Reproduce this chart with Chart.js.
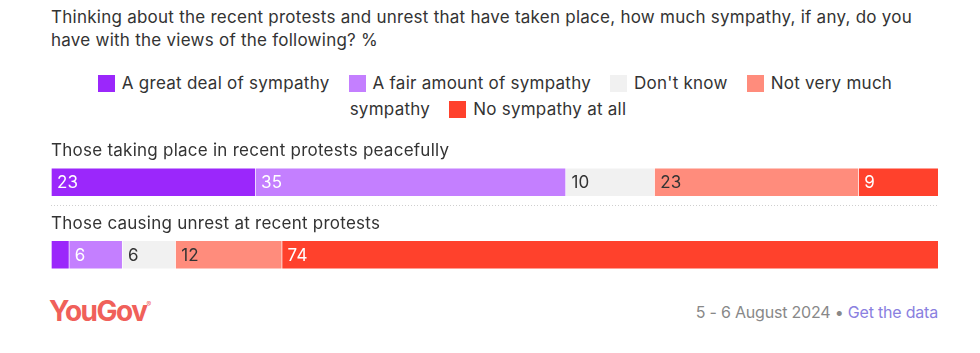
<!DOCTYPE html>
<html>
<head>
<meta charset="utf-8">
<script src="https://cdn.jsdelivr.net/npm/chart.js@4"></script>
<style>
  body { margin: 0; background: #fff; font-family: Inter, "Open Sans", sans-serif; color: #333; }
  #wrap { position: relative; width: 980px; height: 353px; overflow: hidden; }
  #title { position: absolute; left: 51px; top: 6px; width: 900px; font-size: 17px; letter-spacing: 0.25px; line-height: 23px; }
  #legend { position: absolute; left: 80px; top: 70px; width: 830px; text-align: center; font-size: 17px; letter-spacing: 0.25px; line-height: 26px; }
  #legend .item { margin-right: 14px; }
  #legend .sw { display: inline-block; width: 17px; height: 17px; vertical-align: -3px; margin-right: 7px; }
  #chartBox { position: absolute; left: 51px; top: 121px; width: 887px; height: 170px; }
  #logo { position: absolute; left: 49px; top: 294px; font-size: 28px; font-weight: 700; color: #f0605a; letter-spacing: -1.5px; }
  #logo sup { font-size: 7px; font-weight: 400; letter-spacing: 0; vertical-align: 14px; }
  #source { position: absolute; right: 42px; top: 302px; font-size: 16px; letter-spacing: -0.2px; color: #888; }
  #source a { color: #8a80e0; text-decoration: none; }
</style>
</head>
<body>
<div id="wrap">
  <div id="title">Thinking about the recent protests and unrest that have taken place, how much sympathy, if any, do you have with the views of the following? %</div>
  <div id="legend"></div>
  <div id="chartBox"><canvas id="chart"></canvas></div>
  <div id="logo">YouGov<sup>®</sup></div>
  <div id="source">5 - 6 August 2024 • <a href="#">Get the data</a></div>
</div>
<script>
const categories = [
    "Those taking place in recent protests peacefully",
    "Those causing unrest at recent protests"
];

const seriesNames = [
    "A great deal of sympathy",
    "A fair amount of sympathy",
    "Don't know",
    "Not very much sympathy",
    "No sympathy at all"
];

const greatDeal = [23, 2];
const fairAmount = [35, 6];
const dontKnow = [10, 6];
const notVeryMuch = [23, 12];
const noSympathy = [9, 74];

const colors = ["#9b27fb", "#c47fff", "#f1f1f1", "#ff8c7c", "#ff412c"];
const labelColors = ["#fff", "#fff", "#333", "#333", "#fff"];

const allValues = [greatDeal, fairAmount, dontKnow, notVeryMuch, noSympathy];

// html legend
const legend = document.getElementById("legend");
seriesNames.forEach((name, i) => {
    const span = document.createElement("span");
    span.className = "item";
    span.innerHTML = `<span class="sw" style="background:${colors[i]}"></span>${name}`;
    legend.appendChild(span);
    legend.appendChild(document.createTextNode(" "));
});

const rowLabels = {
    id: "rowLabels",
    afterDatasetsDraw(chart) {
        const ctx = chart.ctx;
        const yScale = chart.scales.y;
        const area = chart.chartArea;
        ctx.save();
        ctx.letterSpacing = "0.25px";

        // segment values
        chart.data.datasets.forEach((ds, i) => {
            const meta = chart.getDatasetMeta(i);
            meta.data.forEach((bar, j) => {
                const v = ds.data[j];
                if (v < 3) return;
                const left = Math.min(bar.x, bar.base);
                ctx.fillStyle = labelColors[i];
                ctx.font = "17px Inter, 'Open Sans', sans-serif";
                ctx.textAlign = "left";
                ctx.textBaseline = "middle";
                ctx.fillText(v, left + 6, bar.y + 1);
            });
        });

        // category names above bars
        categories.forEach((c, j) => {
            const y = yScale.getPixelForValue(j);
            ctx.fillStyle = "#333";
            ctx.font = "17px Inter, 'Open Sans', sans-serif";
            ctx.textAlign = "left";
            ctx.textBaseline = "bottom";
            ctx.fillText(c, area.left, y - 14.5 - 8);
        });

        // dotted separator between rows
        const y0 = yScale.getPixelForValue(0) + 14.5 + 8;
        ctx.strokeStyle = "#cfcfcf";
        ctx.lineWidth = 1;
        ctx.setLineDash([1, 2]);
        ctx.beginPath();
        ctx.moveTo(area.left, Math.round(y0) + 0.5);
        ctx.lineTo(area.right, Math.round(y0) + 0.5);
        ctx.stroke();
        ctx.restore();
    }
};

new Chart(document.getElementById("chart"), {
    type: "bar",
    data: {
        labels: categories,
        datasets: seriesNames.map((name, i) => ({
            label: name,
            data: allValues[i],
            backgroundColor: colors[i],
            borderColor: "rgba(255,255,255,0.6)",
            borderWidth: { left: 1, right: 0, top: 1, bottom: 1 },
            borderSkipped: false,
            barThickness: 29
        }))
    },
    options: {
        indexAxis: "y",
        responsive: true,
        maintainAspectRatio: false,
        animation: false,
        layout: { padding: { top: 25, bottom: 0, left: 0, right: 0 } },
        scales: {
            x: { stacked: true, min: 0, max: 100, display: false },
            y: { stacked: true, display: false }
        },
        plugins: {
            legend: { display: false },
            tooltip: { enabled: false }
        }
    },
    plugins: [rowLabels]
});
</script>
</body>
</html>
